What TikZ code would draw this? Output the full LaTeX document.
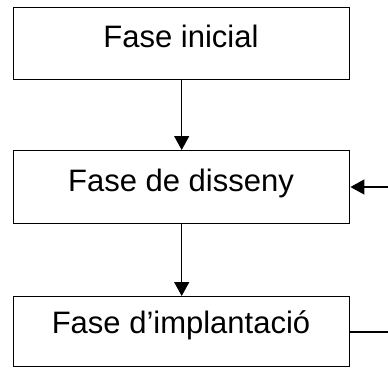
\documentclass[tikz,border=0pt]{standalone}
\usepackage{fontspec}
\setmainfont{Liberation Sans}
\usetikzlibrary{arrows.meta}
\begin{document}
\begin{tikzpicture}[x=1pt,y=-1pt,
  phase/.style={draw=black,line width=1.4pt,minimum width=336pt,inner sep=0pt},
  label/.style={anchor=base,inner sep=0pt,font=\fontsize{31}{36}\selectfont},
  conn/.style={line width=1.4pt,-{Triangle[length=14pt,width=15pt]}}]
\useasboundingbox (0,0) rectangle (388,367);
\node[phase,minimum height=72pt,anchor=north west] (ini) at (13,7) {};
\node[label] (tini) at (181,47) {Fase inicial};
\node[phase,minimum height=73pt,anchor=north west] (dis) at (13,150) {};
\node[label] (tdis) at (181,191) {Fase de disseny};
\node[phase,minimum height=70pt,anchor=north west] (imp) at (13,296) {};
\node[label] (timp) at (181,333) {Fase d’implantació};
\coordinate (r1) at (394,332);
\coordinate (r2) at (394,187);
\draw[conn] (ini.south) -- (dis.north);
\draw[conn] (dis.south) -- (imp.north);
\draw[conn] (imp.east |- r1) -- (r1) -- (r2) -- (dis.east |- r2);
\end{tikzpicture}
\end{document}
